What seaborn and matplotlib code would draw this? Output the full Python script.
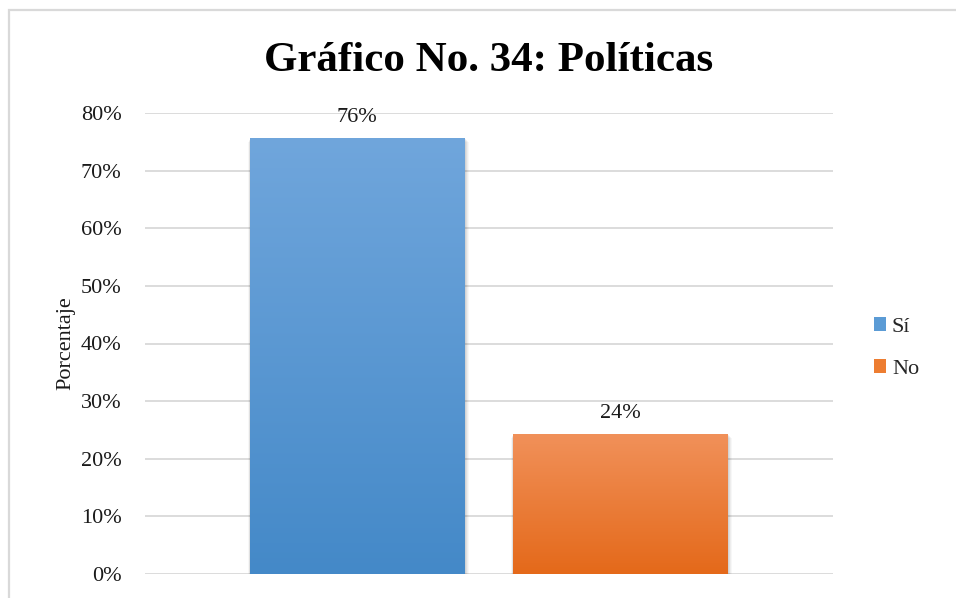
import numpy as np
import matplotlib
matplotlib.use("Agg")
import matplotlib.pyplot as plt
import seaborn as sns
from matplotlib.patches import Patch, Rectangle
from matplotlib.colors import LinearSegmentedColormap
from matplotlib.ticker import PercentFormatter

categories = ["Sí", "No"]
values = [0.757, 0.243]
value_labels = ["76%", "24%"]
top_colors = ["#70A6DC", "#F1915A"]
bottom_colors = ["#4489C8", "#E4691A"]
legend_colors = ["#5B9BD5", "#ED7D31"]
title = "Gráfico No. 34: Políticas"
ylabel = "Porcentaje"
yticks = [0.0, 0.1, 0.2, 0.3, 0.4, 0.5, 0.6, 0.7, 0.8]

sns.set_theme(style="white")
plt.rcParams["font.family"] = ["Liberation Serif", "DejaVu Serif"]

fig = plt.figure(figsize=(9.56, 5.98), dpi=100)
ax = fig.add_axes([145 / 956, 24 / 598, (833 - 145) / 956, (574 - 113) / 598])

sns.barplot(x=categories, y=values, hue=categories, palette=bottom_colors,
            width=0.814, legend=False, ax=ax, saturation=1, edgecolor="none")

# gradient fill + soft shadow
for patch, ctop, cbot in zip(ax.patches, top_colors, bottom_colors):
    x0, y0 = patch.get_x(), patch.get_y()
    w, h = patch.get_width(), patch.get_height()
    cmap = LinearSegmentedColormap.from_list("g", [cbot, ctop])
    grad = np.linspace(0, 1, 256).reshape(-1, 1)
    im = ax.imshow(grad, cmap=cmap, origin="lower", aspect="auto",
                   extent=[x0, x0 + w, y0, y0 + h], zorder=3)
    im.set_clip_path(patch)
    patch.set_zorder(3)
    for i, a in enumerate([0.06, 0.05, 0.04, 0.03]):
        dx = 0.004 * (i + 1)
        dy = 0.0025 * (i + 1)
        sh = Rectangle((x0 - dx * 0.5, y0 - dy), w + dx * 1.5, h + dy * 0.3,
                       facecolor="black", alpha=a, edgecolor="none", zorder=2.5)
        ax.add_patch(sh)

for i, (v, lab) in enumerate(zip(values, value_labels)):
    ax.annotate(lab, (i, v), xytext=(0, 8), textcoords="offset points",
                ha="center", va="bottom", fontsize=16, color="#1A1A1A")

ax.set_xlim(-0.806, 1.806)
ax.set_ylim(0, 0.8)
ax.set_yticks(yticks)
ax.yaxis.set_major_formatter(PercentFormatter(1.0, decimals=0))
ax.set_xticks([])
ax.set_xlabel("")
ax.tick_params(axis="y", length=0, pad=17, labelsize=16, labelcolor="#1A1A1A")
ax.set_ylabel(ylabel, fontsize=16, color="#1A1A1A", labelpad=4)
ax.yaxis.grid(True, color="#D9D9D9", linewidth=1.3, zorder=0)
ax.set_axisbelow(True)
for s in ax.spines.values():
    s.set_visible(False)

fig.text(489 / 956, 1 - 61 / 598, title, ha="center", va="center",
         fontsize=31, fontweight="bold", color="black")

handles = [Patch(facecolor=c, edgecolor="none") for c in legend_colors]
fig.legend(handles, categories, loc="center left",
           bbox_to_anchor=(863 / 956, 1 - 348 / 598), frameon=False,
           fontsize=16, handlelength=0.55, handleheight=0.55,
           handletextpad=0.25, labelspacing=1.0, borderpad=0)

# chart border
fig.patches.append(Rectangle((9 / 956, -0.05), 1.1, 1 - 10 / 598 + 0.05,
                             transform=fig.transFigure, fill=False,
                             edgecolor="#D9D9D9", linewidth=1.6))

fig.savefig("out.png", dpi=100, facecolor="white")
